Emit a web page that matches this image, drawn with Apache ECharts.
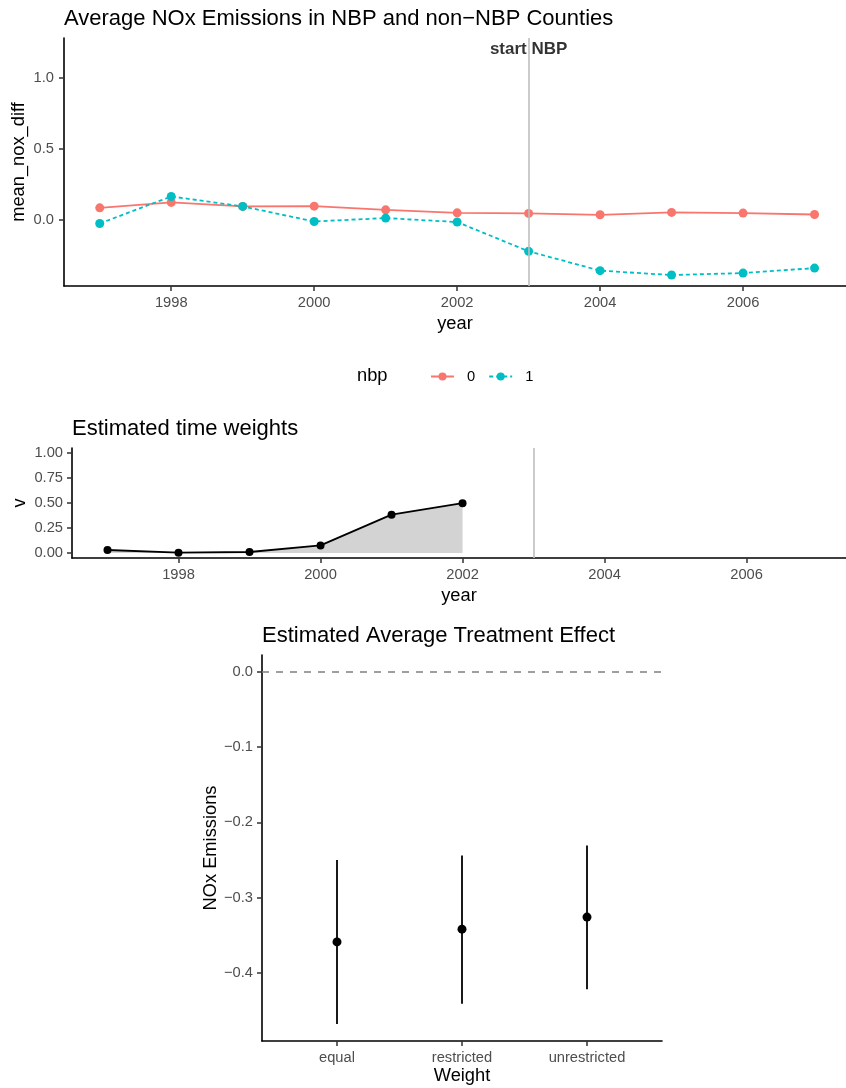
<!DOCTYPE html>
<html>
<head>
<meta charset="utf-8">
<script src="https://cdn.jsdelivr.net/npm/echarts@6/dist/echarts.min.js"></script>
<style>
html,body{margin:0;padding:0;background:#fff;}
#chart{width:846px;height:1088px;}
</style>
</head>
<body>
<div id="chart"></div>
<script>
// ---------- data ----------
const years = [1997, 1998, 1999, 2000, 2001, 2002, 2003, 2004, 2005, 2006, 2007];
const nox0 = [0.084, 0.122, 0.094, 0.096, 0.070, 0.049, 0.045, 0.035, 0.052, 0.047, 0.037];
const nox1 = [-0.026, 0.164, 0.094, -0.012, 0.012, -0.016, -0.222, -0.358, -0.389, -0.375, -0.340];
const weightYears = [1997, 1998, 1999, 2000, 2001, 2002];
const vWeights = [0.030, 0.003, 0.010, 0.076, 0.383, 0.498];
const treatmentYear = 2003;
const annotationY = 1.2;
const annotationText = 'start NBP';
const weightNames = ['equal', 'restricted', 'unrestricted'];
const ateEstimate = [-0.359, -0.342, -0.326];
const ateLower = [-0.468, -0.441, -0.422];
const ateUpper = [-0.250, -0.244, -0.231];
const yearTicks = [1998, 2000, 2002, 2004, 2006];
const topYTicks = [0, 0.5, 1.0];
const midYTicks = [0, 0.25, 0.5, 0.75, 1.0];
const ateYTicks = [0, -0.1, -0.2, -0.3, -0.4];

// ---------- styling ----------
const FONT = '"Liberation Sans", Arial, Helvetica, sans-serif';
const RED = '#F8766D', CYAN = '#00BFC4';
const tickLabel = {color: '#4D4D4D', fontSize: 14.7, fontFamily: FONT};
const axisTitle = {color: '#000', fontSize: 18.3, fontFamily: FONT};
const axisLine = {show: true, onZero: false, lineStyle: {color: '#000', width: 1.6}};
const axisTick = {show: true, length: 5, lineStyle: {color: '#333', width: 1.5}};
const fmtMinus = (s) => s.replace('-', '\u2212');
const titleStyle = {fontSize: 22, fontWeight: 'normal', color: '#000', fontFamily: FONT};

const chart = echarts.init(document.getElementById('chart'), null, {renderer: 'canvas'});

const option = {
  animation: false,
  backgroundColor: '#fff',
  textStyle: {fontFamily: FONT},
  title: [
    {text: 'Average NOx Emissions in NBP and non\u2212NBP Counties', left: 64, top: 8, padding: 0,
     textStyle: titleStyle},
    {text: 'Estimated time weights', left: 72, top: 418, padding: 0, textStyle: titleStyle},
    {text: 'Estimated Average Treatment Effect', left: 262, top: 625, padding: 0, textStyle: titleStyle}
  ],
  legend: {
    data: ['0', '1'],
    left: 430, top: 369, padding: 0,
    itemWidth: 23, itemHeight: 10, itemGap: 13,
    textStyle: {color: '#000', fontSize: 14.7, fontFamily: FONT, padding: [0, 0, 0, 8]}
  },
  graphic: [
    {type: 'text', left: 357, top: 367,
     style: {text: 'nbp', fontSize: 18.3, fontFamily: FONT, fill: '#000'}}
  ],
  grid: [
    {left: 64, top: 38, width: 782, height: 248, outerBoundsMode: 'none', containLabel: false},
    {left: 72, top: 448, width: 774, height: 110, outerBoundsMode: 'none', containLabel: false},
    {left: 262, top: 655, width: 400, height: 386, outerBoundsMode: 'none', containLabel: false}
  ],
  xAxis: [
    {type: 'value', gridIndex: 0, min: 1996.5, max: 2007.44,
     name: 'year', nameLocation: 'middle', nameGap: 29, nameTextStyle: axisTitle,
     axisLine: axisLine, axisTick: Object.assign({customValues: yearTicks}, axisTick),
     axisLabel: Object.assign({customValues: yearTicks, margin: 9,
       formatter: (v) => String(v)}, tickLabel),
     splitLine: {show: false}},
    {type: 'value', gridIndex: 1, min: 1996.5, max: 2007.4,
     name: 'year', nameLocation: 'middle', nameGap: 29, nameTextStyle: axisTitle,
     axisLine: axisLine, axisTick: Object.assign({customValues: yearTicks}, axisTick),
     axisLabel: Object.assign({customValues: yearTicks, margin: 9,
       formatter: (v) => String(v)}, tickLabel),
     splitLine: {show: false}},
    {type: 'value', gridIndex: 2, min: 0.4, max: 3.6,
     name: 'Weight', nameLocation: 'middle', nameGap: 26, nameTextStyle: axisTitle,
     axisLine: axisLine, axisTick: Object.assign({customValues: [1, 2, 3]}, axisTick),
     axisLabel: Object.assign({customValues: [1, 2, 3], margin: 9,
       formatter: (v) => weightNames[Math.round(v) - 1]}, tickLabel),
     splitLine: {show: false}}
  ],
  yAxis: [
    {type: 'value', gridIndex: 0, min: -0.466, max: 1.279,
     name: 'mean_nox_diff', nameLocation: 'middle', nameGap: 36, nameMoveOverlap: false,
     nameTextStyle: axisTitle,
     axisLine: axisLine, axisTick: Object.assign({customValues: topYTicks}, axisTick),
     axisLabel: Object.assign({customValues: topYTicks, margin: 10,
       formatter: (v) => fmtMinus(v.toFixed(1))}, tickLabel),
     splitLine: {show: false}},
    {type: 'value', gridIndex: 1, min: -0.05, max: 1.05,
     name: 'v', nameLocation: 'middle', nameGap: 43, nameMoveOverlap: false,
     nameTextStyle: axisTitle,
     axisLine: axisLine, axisTick: Object.assign({customValues: midYTicks}, axisTick),
     axisLabel: Object.assign({customValues: midYTicks, margin: 9,
       formatter: (v) => fmtMinus(v.toFixed(2))}, tickLabel),
     splitLine: {show: false}},
    {type: 'value', gridIndex: 2, min: -0.4906, max: 0.0222,
     name: 'NOx Emissions', nameLocation: 'middle', nameGap: 42, nameTextStyle: axisTitle,
     axisLine: axisLine, axisTick: Object.assign({customValues: ateYTicks}, axisTick),
     axisLabel: Object.assign({customValues: ateYTicks, margin: 9,
       formatter: (v) => fmtMinus(v.toFixed(1))}, tickLabel),
     splitLine: {show: false}}
  ],
  series: [
    {name: '0', type: 'line', xAxisIndex: 0, yAxisIndex: 0,
     data: years.map((y, i) => [y, nox0[i]]),
     symbol: 'circle', symbolSize: 9, color: RED,
     lineStyle: {color: RED, width: 1.8}, itemStyle: {color: RED}, z: 3,
     markLine: {silent: true, symbol: 'none', label: {show: false}, animation: false,
       lineStyle: {color: '#BEBEBE', width: 1.6, type: 'solid'},
       data: [{xAxis: treatmentYear}]}},
    {name: '1', type: 'line', xAxisIndex: 0, yAxisIndex: 0,
     data: years.map((y, i) => [y, nox1[i]]),
     symbol: 'circle', symbolSize: 9, color: CYAN,
     lineStyle: {color: CYAN, width: 1.8, type: [4, 3]}, itemStyle: {color: CYAN}, z: 3},
    {name: 'annotation', type: 'scatter', xAxisIndex: 0, yAxisIndex: 0,
     data: [[treatmentYear, annotationY]], symbolSize: 0, silent: true,
     label: {show: true, position: 'inside', formatter: annotationText,
       fontSize: 17, fontWeight: 'bold', color: '#000', fontFamily: FONT}, z: 5},
    {name: 'v', type: 'line', xAxisIndex: 1, yAxisIndex: 1,
     data: weightYears.map((y, i) => [y, vWeights[i]]),
     symbol: 'circle', symbolSize: 8, color: '#000',
     lineStyle: {color: '#000', width: 1.8}, itemStyle: {color: '#000'},
     areaStyle: {color: '#D3D3D3', opacity: 1},
     markLine: {silent: true, symbol: 'none', label: {show: false}, animation: false,
       lineStyle: {color: '#BEBEBE', width: 1.6, type: 'solid'},
       data: [{xAxis: treatmentYear}]}},
    {name: 'ci', type: 'custom', xAxisIndex: 2, yAxisIndex: 2,
     data: weightNames.map((n, i) => [i + 1, ateLower[i], ateUpper[i]]),
     renderItem: (params, api) => {
       const p1 = api.coord([api.value(0), api.value(1)]);
       const p2 = api.coord([api.value(0), api.value(2)]);
       return {type: 'line', shape: {x1: p1[0], y1: p1[1], x2: p2[0], y2: p2[1]},
               style: {stroke: '#000', lineWidth: 1.8}};
     }},
    {name: 'ate', type: 'scatter', xAxisIndex: 2, yAxisIndex: 2,
     data: weightNames.map((n, i) => [i + 1, ateEstimate[i]]),
     symbol: 'circle', symbolSize: 9, itemStyle: {color: '#000', opacity: 1}, z: 4,
     markLine: {silent: true, symbol: 'none', label: {show: false}, animation: false,
       lineStyle: {color: '#7F7F7F', width: 1.5, type: [7, 7]},
       data: [{yAxis: 0}]}}
  ]
};
chart.setOption(option);
</script>
</body>
</html>
